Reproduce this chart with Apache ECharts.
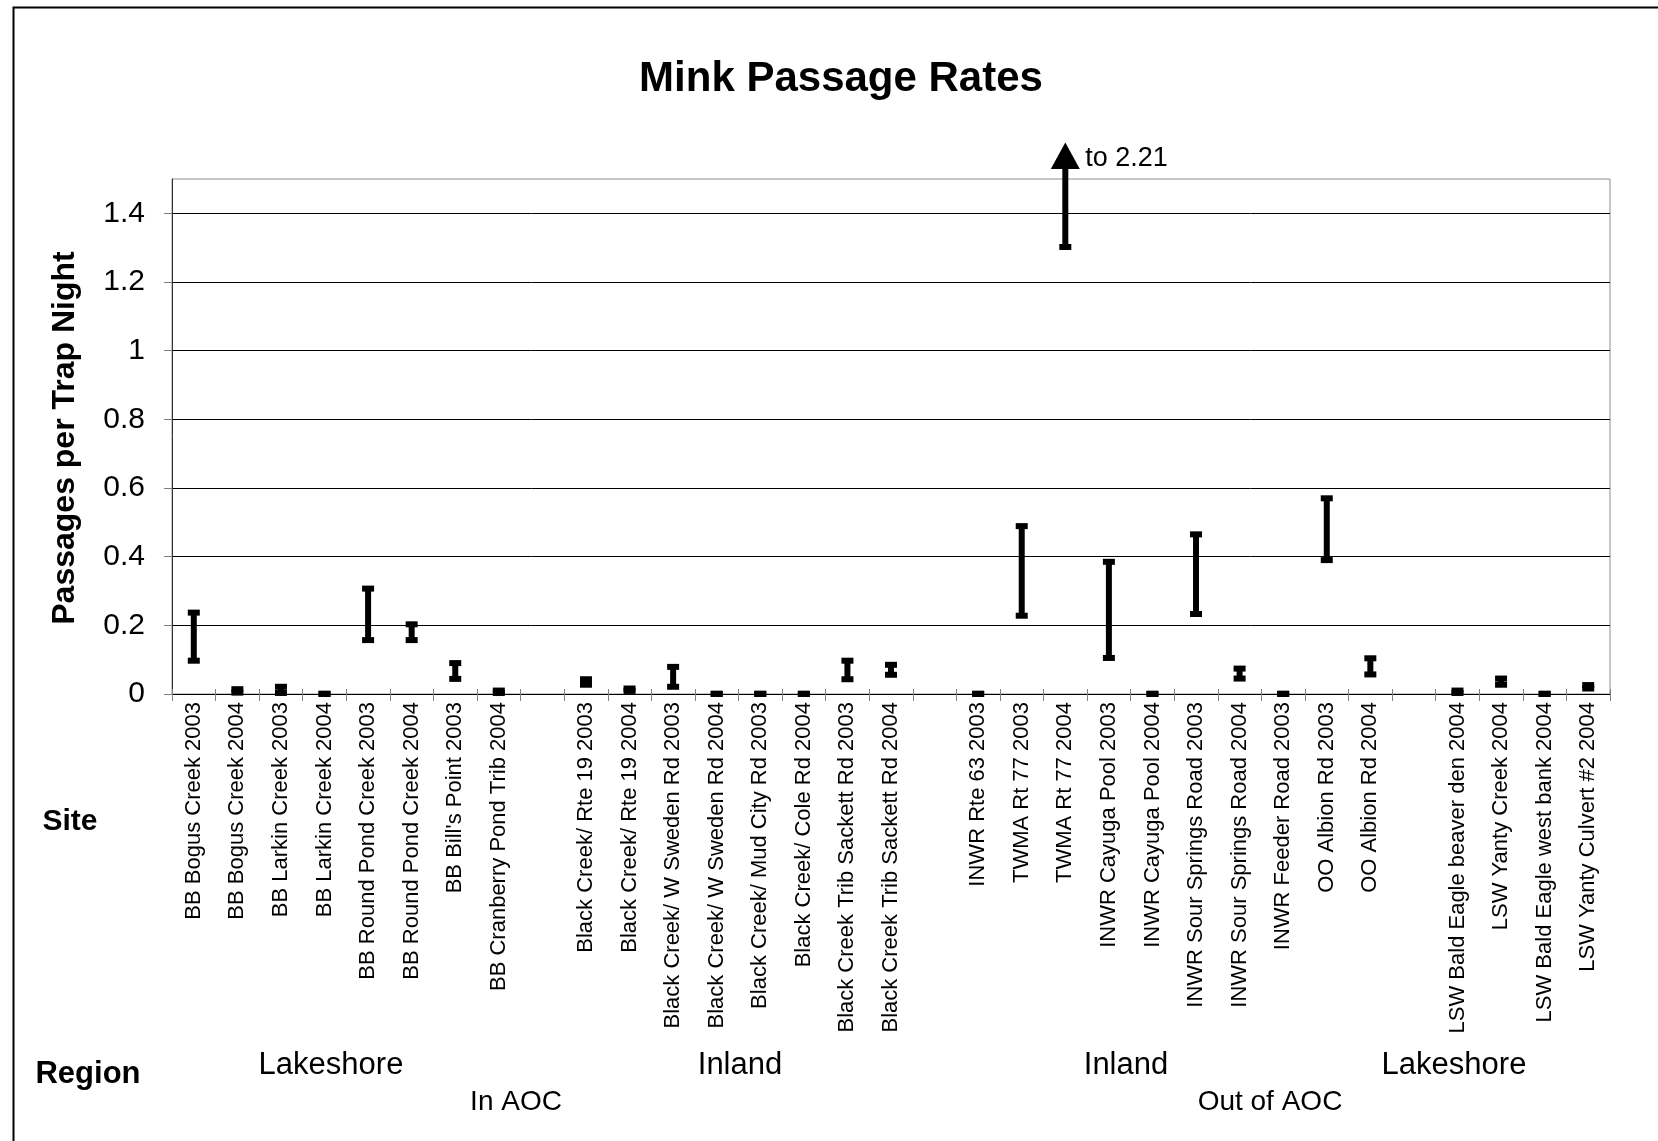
<!DOCTYPE html>
<html>
<head>
<meta charset="utf-8">
<script src="https://cdn.jsdelivr.net/npm/echarts@6/dist/echarts.min.js"></script>
<style>
  html, body { margin: 0; padding: 0; background: #ffffff; }
  #chart { width: 1658px; height: 1141px; }
</style>
</head>
<body>
<div id="chart"></div>
<script>
// ---------- data ----------
const categories = [
  'BB Bogus Creek 2003', 'BB Bogus Creek 2004', 'BB Larkin Creek 2003', 'BB Larkin Creek 2004',
  'BB Round Pond Creek 2003', 'BB Round Pond Creek 2004', "BB Bill's Point 2003", 'BB Cranberry Pond Trib 2004',
  '',
  'Black Creek/ Rte 19 2003', 'Black Creek/ Rte 19 2004', 'Black Creek/ W Sweden Rd 2003', 'Black Creek/ W Sweden Rd 2004',
  'Black Creek/ Mud City Rd 2003', 'Black Creek/ Cole Rd 2004', 'Black Creek Trib Sackett Rd 2003', 'Black Creek Trib Sackett Rd 2004',
  '',
  'INWR Rte 63 2003', 'TWMA Rt 77 2003', 'TWMA Rt 77 2004', 'INWR Cayuga Pool 2003', 'INWR Cayuga Pool 2004',
  'INWR Sour Springs Road 2003', 'INWR Sour Springs Road 2004', 'INWR Feeder Road 2003', 'OO Albion Rd 2003', 'OO Albion Rd 2004',
  '',
  'LSW Bald Eagle beaver den 2004', 'LSW Yanty Creek 2004', 'LSW Bald Eagle west bank 2004', 'LSW Yanty Culvert #2 2004'
];
const lowValues = [
  0.097, 0.004, 0.003, 0.000, 0.157, 0.157, 0.044, 0.003,
  null,
  0.027, 0.009, 0.021, 0.000, 0.000, 0.000, 0.043, 0.056,
  null,
  0.000, 0.228, 1.302, 0.105, 0.000, 0.233, 0.045, 0.000, 0.390, 0.057,
  null,
  0.003, 0.027, 0.000, 0.016
];
const highValues = [
  0.237, 0.014, 0.021, 0.001, 0.307, 0.203, 0.090, 0.010,
  null,
  0.043, 0.016, 0.079, 0.001, 0.001, 0.001, 0.097, 0.085,
  null,
  0.001, 0.489, 2.21, 0.385, 0.001, 0.465, 0.074, 0.001, 0.570, 0.104,
  null,
  0.010, 0.045, 0.001, 0.026
];
const regionLabels = ['Lakeshore', 'Inland', 'Inland', 'Lakeshore'];
const aocLabels = ['In AOC', 'Out of AOC'];
const yTicks = { min: 0, max: 1.5, interval: 0.2 };

// ---------- chart ----------
const FONT = '"Liberation Sans", Arial, Helvetica, sans-serif';
const seriesData = [];
categories.forEach((c, i) => {
  if (lowValues[i] !== null) seriesData.push([i, lowValues[i], highValues[i]]);
});

function renderItem(params, api) {
  const i = api.value(0), lo = api.value(1), hi = api.value(2);
  const top = params.coordSys.y;
  const pLo = api.coord([i, lo]);
  let pHi = api.coord([i, hi]);
  const x = pLo[0];
  const capW = 12, capH = 6, lw = 6;
  const children = [];
  const over = pHi[1] < top;
  if (over) pHi = [x, top - 10];
  children.push({
    type: 'line',
    shape: { x1: x, y1: pLo[1], x2: x, y2: pHi[1] },
    style: { stroke: '#000', lineWidth: lw, lineCap: 'butt' }
  });
  children.push({
    type: 'rect',
    shape: { x: x - capW / 2, y: pLo[1] - capH / 2, width: capW, height: capH },
    style: { fill: '#000' }
  });
  if (!over) {
    children.push({
      type: 'rect',
      shape: { x: x - capW / 2, y: pHi[1] - capH / 2, width: capW, height: capH },
      style: { fill: '#000' }
    });
  } else {
    children.push({
      type: 'polygon',
      shape: { points: [[x, top - 36.5], [x - 14.5, top - 10], [x + 14.5, top - 10]] },
      style: { fill: '#000' }
    });
    children.push({
      type: 'text',
      x: x + 20, y: top - 20,
      style: { text: 'to ' + hi, fill: '#000', font: '27px ' + FONT, textAlign: 'left', textVerticalAlign: 'middle' }
    });
  }
  return { type: 'group', children };
}

const chart = echarts.init(document.getElementById('chart'), null, { renderer: 'canvas' });
chart.setOption({
  animation: false,
  backgroundColor: '#ffffff',
  title: {
    text: 'Mink Passage Rates',
    left: 836, top: 53, textAlign: 'center',
    textStyle: { fontFamily: FONT, fontSize: 42, fontWeight: 'bold', color: '#000' }
  },
  grid: {
    left: 172, top: 179, width: 1438, height: 515,
    show: true, borderColor: '#8c8c8c', borderWidth: 1, backgroundColor: 'transparent'
  },
  xAxis: [{
    type: 'category',
    data: categories,
    boundaryGap: true,
    axisLine: { show: true, lineStyle: { color: '#000', width: 1 } },
    axisTick: { show: true, interval: 0, length: 7, lineStyle: { color: '#808080', width: 1 } },
    axisLabel: {
      interval: 0, rotate: 90, margin: 8,
      fontFamily: FONT, fontSize: 22, color: '#000'
    },
    splitLine: { show: false }
  }, {
    type: 'category',
    data: categories,
    position: 'bottom',
    boundaryGap: true,
    axisLine: { show: false },
    axisTick: { show: true, inside: true, interval: 0, length: 5, lineStyle: { color: '#808080', width: 1 } },
    axisLabel: { show: false },
    splitLine: { show: false }
  }],
  yAxis: {
    type: 'value',
    min: yTicks.min, max: yTicks.max, interval: yTicks.interval,
    axisLine: { show: true, lineStyle: { color: '#333', width: 1 } },
    axisTick: { show: true, length: 8, lineStyle: { color: '#808080' } },
    axisLabel: {
      margin: 27, showMaxLabel: false,
      fontFamily: FONT, fontSize: 30, color: '#000'
    },
    splitLine: { show: true, showMaxLine: false, lineStyle: { color: '#000', width: 1 } }
  },
  graphic: [
    { type: 'rect', left: 11, top: 5, shape: { x: 11, y: 5, width: 1720, height: 1220 },
      style: { fill: 'none', stroke: '#000', lineWidth: 2 }, silent: true, z: 100 },
    { type: 'text', x: 65, y: 438, rotation: Math.PI / 2,
      style: { text: 'Passages per Trap Night', font: 'bold 32px ' + FONT, fill: '#000', textAlign: 'center', textVerticalAlign: 'middle' } },
    { type: 'text', x: 70, y: 822,
      style: { text: 'Site', font: 'bold 30px ' + FONT, fill: '#000', textAlign: 'center', textVerticalAlign: 'middle' } },
    { type: 'text', x: 88, y: 1074,
      style: { text: 'Region', font: 'bold 31px ' + FONT, fill: '#000', textAlign: 'center', textVerticalAlign: 'middle' } },
    { type: 'text', x: 331, y: 1065,
      style: { text: regionLabels[0], font: '31px ' + FONT, fill: '#000', textAlign: 'center', textVerticalAlign: 'middle' } },
    { type: 'text', x: 740, y: 1065,
      style: { text: regionLabels[1], font: '31px ' + FONT, fill: '#000', textAlign: 'center', textVerticalAlign: 'middle' } },
    { type: 'text', x: 1126, y: 1065,
      style: { text: regionLabels[2], font: '31px ' + FONT, fill: '#000', textAlign: 'center', textVerticalAlign: 'middle' } },
    { type: 'text', x: 1454, y: 1065,
      style: { text: regionLabels[3], font: '31px ' + FONT, fill: '#000', textAlign: 'center', textVerticalAlign: 'middle' } },
    { type: 'text', x: 516, y: 1102,
      style: { text: aocLabels[0], font: '28px ' + FONT, fill: '#000', textAlign: 'center', textVerticalAlign: 'middle' } },
    { type: 'text', x: 1270, y: 1102,
      style: { text: aocLabels[1], font: '28px ' + FONT, fill: '#000', textAlign: 'center', textVerticalAlign: 'middle' } }
  ],
  series: [{
    type: 'custom',
    name: 'Passage rate range',
    xAxisIndex: 0, yAxisIndex: 0,
    renderItem: renderItem,
    encode: { x: 0, y: [1, 2] },
    data: seriesData,
    clip: false,
    z: 10
  }]
});
</script>
</body>
</html>
